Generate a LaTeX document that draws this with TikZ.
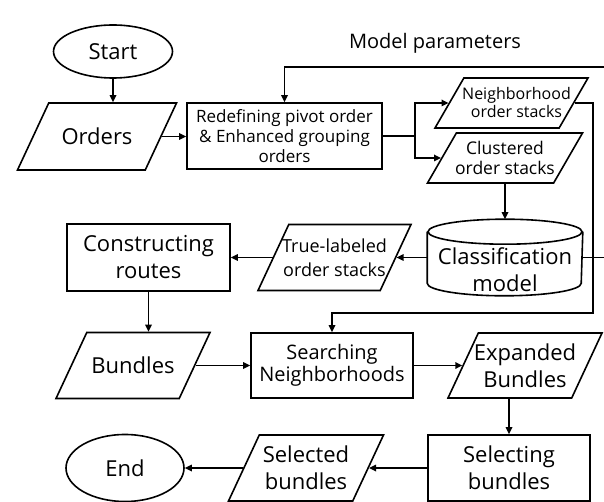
\documentclass[tikz,border=0pt]{standalone}
\usepackage{fontspec}
\setmainfont{Open Sans}
\usetikzlibrary{shapes.geometric,arrows.meta}

\begin{document}
\begin{tikzpicture}[x=1pt, y=-1pt, line width=1.6pt, >={Triangle[length=7pt,width=6.5pt]},
    proc/.style={draw, rectangle, align=center, inner sep=0pt},
    datablk/.style={draw, trapezium, trapezium left angle=65, trapezium right angle=115,
        trapezium stretches body, inner xsep=0pt, inner ysep=33pt, minimum width=154pt},
    term/.style={draw, ellipse, inner sep=0pt},
    big/.style={font=\fontsize{22}{27}\selectfont},
    mid/.style={font=\fontsize{20}{22}\selectfont},
    small/.style={font=\fontsize{17}{20}\selectfont}]
    \useasboundingbox (0,0) rectangle (604,502);

    \node[term, big, minimum width=119pt, minimum height=53pt] (start) at (113,51.5) {Start};
    \node[mid] (params) at (435,43) {Model parameters};

    \node[datablk, minimum width=159pt, inner ysep=33.5pt,
        label={[big]center:Orders}] (orders) at (97,136.5) {};
    \node[proc, small, minimum width=195pt, minimum height=66pt] (redef) at (284.5,136)
        {Redefining pivot order\\\& Enhanced grouping\\orders};
    \node[datablk, trapezium left angle=60, trapezium right angle=120, minimum width=153pt, inner ysep=25pt,
        label={[font=\fontsize{16}{18}\selectfont, align=center, xshift=5pt]center:{Neighborhood\\order stacks}}] (neigh) at (511.5,103) {};
    \node[datablk, trapezium left angle=60, trapezium right angle=120, minimum width=155pt, inner ysep=25pt,
        label={[font=\fontsize{17.5}{20}\selectfont, align=center]center:{Clustered\\order stacks}}] (clust) at (505,158) {};

    % classification model (cylinder outline drawn round the node)
    \node[inner sep=0pt, minimum width=154pt, minimum height=75pt,
        label={[big, align=center, yshift=-12pt]center:{Classification\\model}}] (model) at (505,257.5) {};
    \draw ([yshift=-12.5pt]model.north) ellipse [x radius=77pt, y radius=12.5pt];
    \draw ([yshift=-12.5pt]model.north west) -- ([yshift=12.5pt]model.south west)
        arc[start angle=180, end angle=360, x radius=77pt, y radius=12.5pt]
        -- ([yshift=-12.5pt]model.north east);

    \node[datablk, minimum width=153pt,
        label={[font=\fontsize{18}{24}\selectfont, align=center]center:{True-labeled\\order stacks}}] (truelab) at (334.5,257.5) {};
    \node[proc, big, minimum width=163pt, minimum height=67pt] (constr) at (148.5,257.5) {Constructing\\routes};

    \node[datablk, label={[big]center:Bundles}] (bundles) at (133,365.5) {};
    \node[proc, mid, minimum width=162pt, minimum height=65pt] (search) at (332,365.5) {Searching\\Neighborhoods};
    \node[datablk, inner ysep=32.5pt,
        label={[big, align=center]center:{Expanded\\Bundles}}] (expand) at (525,365.5) {};

    \node[proc, big, minimum width=162pt, minimum height=66pt] (select) at (509,468) {Selecting\\bundles};
    \node[datablk, minimum width=155pt,
        label={[big, align=center]center:{Selected\\bundles}}] (selb) at (306,468) {};
    \node[term, big, minimum width=118pt, minimum height=67pt] (end) at (125,468) {End};

    \coordinate (fbtop) at (604,67);
    \coordinate (fbright) at (604,257.5);
    \coordinate (branch) at (415,136);
    \coordinate (fbturn) at (593,313);

    \draw[->] (start) -- (start |- orders.north);
    \draw[->] (orders) -- (orders -| redef.west);
    \draw[->] (fbtop) -| (redef.north);
    \draw (redef.east) -- (branch);
    \draw[->] (branch) |- (neigh);
    \draw[->] (branch) |- (clust);
    \draw[->] (neigh) -| (fbturn) -| (search);
    \draw[->] (clust) -- (model);
    \draw (model) -- (fbright);
    \draw[->] (model) -- (truelab);
    \draw[->] (truelab) -- (constr);
    \draw[->] (constr.south) -- (constr.south |- bundles.north);
    \draw[->] (bundles) -- (search);
    \draw[->] (search) -- (expand);
    \draw[->] (expand.south -| select.north) -- (select.north);
    \draw[->] (select) -- (selb);
    \draw[->] (selb) -- (end);
\end{tikzpicture}
\end{document}
